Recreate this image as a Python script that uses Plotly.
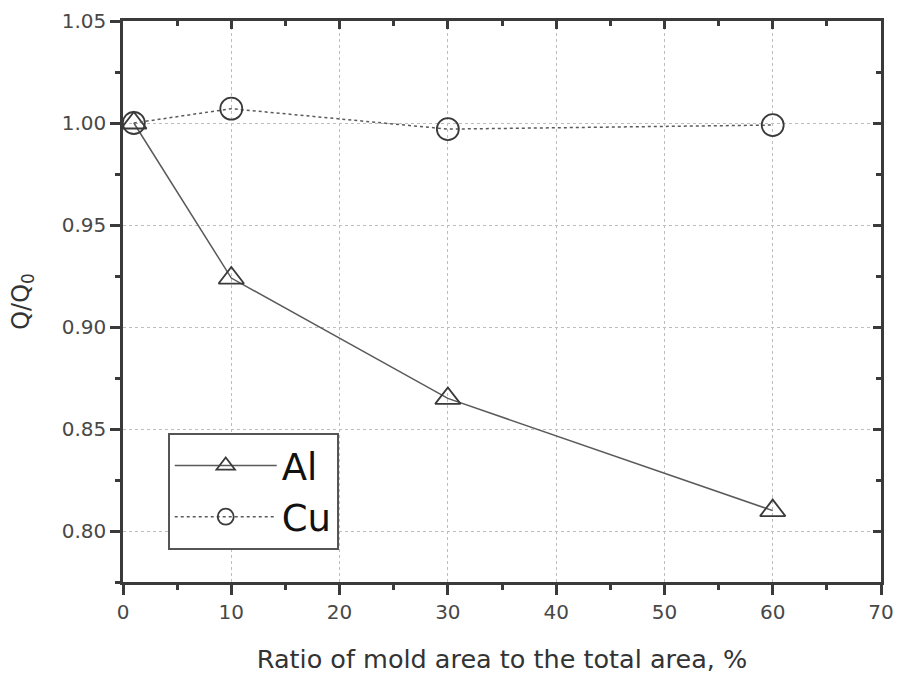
import plotly.graph_objects as go

# Ratio of mold area (%) and normalised heat flow Q/Q0
al_x = [1, 10, 30, 60]
al_y = [1.000, 0.924, 0.865, 0.810]
cu_x = [1, 10, 30, 60]
cu_y = [1.000, 1.007, 0.997, 0.999]

x_ticks = [0, 10, 20, 30, 40, 50, 60, 70]
y_ticks = [0.80, 0.85, 0.90, 0.95, 1.00, 1.05]

INK = "#3a3a3a"
FONT = "DejaVu Sans, Liberation Sans, sans-serif"

fig = go.Figure()
fig.add_trace(go.Scatter(
    x=al_x, y=al_y, name="Al", mode="lines+markers",
    line=dict(color="#5a5a5a", width=1.5),
    marker=dict(symbol="triangle-up-open", size=22, color=INK, line=dict(width=1.8)),
))
fig.add_trace(go.Scatter(
    x=cu_x, y=cu_y, name="Cu", mode="lines+markers",
    line=dict(color="#5a5a5a", width=1.5, dash="dot"),
    marker=dict(symbol="circle-open", size=22, color=INK, line=dict(width=1.8)),
))

axis_common = dict(
    showline=True, linecolor=INK, linewidth=2.5,
    ticks="outside", ticklen=10, tickwidth=2.5, tickcolor=INK,
    tickfont=dict(family=FONT, size=20, color="#484848"),
    showgrid=True, gridcolor="#bdbdbd", gridwidth=1, griddash="dot",
    zeroline=False,
)

fig.update_layout(
    width=900, height=682,
    margin=dict(l=123, r=19, t=21, b=96),
    paper_bgcolor="white", plot_bgcolor="white",
    font=dict(family=FONT, color=INK),
    xaxis=dict(
        range=[0, 70], tickvals=x_ticks, **axis_common, automargin="height",
        minor=dict(dtick=5, ticks="outside", ticklen=5, tickwidth=2.5, tickcolor=INK, showgrid=False),
        title=dict(text="Ratio of mold area to the total area, %",
                   font=dict(family=FONT, size=25.5, color="#333333"), standoff=28),
    ),
    yaxis=dict(
        range=[0.775, 1.05], tickvals=y_ticks, tickformat=".2f", **axis_common, automargin="width",
        minor=dict(dtick=0.025, tick0=0.775, ticks="outside", ticklen=5, tickwidth=2.5, tickcolor=INK, showgrid=False),
        title=dict(text="Q/Q<sub>0</sub>", font=dict(family=FONT, size=24, color="#333333"), standoff=26),
    ),
    # mirrored frame with inward ticks on top and right
    xaxis2=dict(
        overlaying="x", matches="x", side="top", range=[0, 70], tickvals=x_ticks,
        showline=True, linecolor=INK, linewidth=2.5, ticks="inside", ticklen=8, tickwidth=2.5,
        tickcolor=INK, showticklabels=False, showgrid=False, zeroline=False, automargin=False,
        minor=dict(dtick=5, ticks="inside", ticklen=5, tickwidth=2.5, tickcolor=INK),
    ),
    yaxis2=dict(
        overlaying="y", matches="y", side="right", range=[0.775, 1.05], tickvals=y_ticks,
        showline=True, linecolor=INK, linewidth=2.5, ticks="inside", ticklen=8, tickwidth=2.5,
        tickcolor=INK, showticklabels=False, showgrid=False, zeroline=False, automargin=False,
        minor=dict(dtick=0.025, tick0=0.775, ticks="inside", ticklen=5, tickwidth=2.5, tickcolor=INK),
    ),
    showlegend=True,
    legend=dict(
        x=0.059, y=0.057, xanchor="left", yanchor="bottom",
        bgcolor="white", bordercolor="#555555", borderwidth=2,
        font=dict(family=FONT, size=37, color="#111111"),
        itemwidth=102, tracegroupgap=0,
    ),
)

# invisible trace anchoring the mirrored axes
fig.add_trace(go.Scatter(x=[None], y=[None], xaxis="x2", yaxis="y2",
                         showlegend=False, hoverinfo="skip"))

fig.write_html("out.html")
